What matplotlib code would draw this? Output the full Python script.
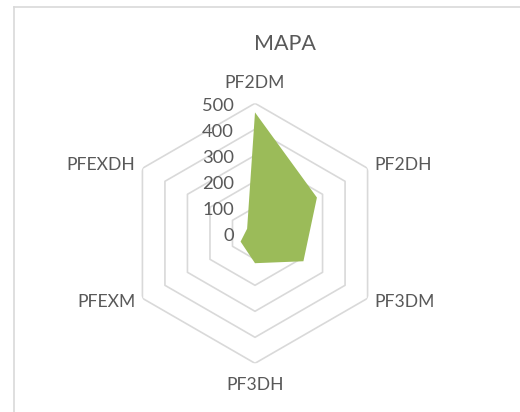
import numpy as np
import matplotlib
matplotlib.use("Agg")
import matplotlib.pyplot as plt
from matplotlib.lines import Line2D

plt.rcParams['font.family'] = ['Lato', 'DejaVu Sans']

# Radar data
categories = ["PF2DM", "PF2DH", "PF3DM", "PF3DH", "PFEXM", "PFEXDH"]
values = [465, 275, 215, 115, 64, 35]
ring_levels = [100, 200, 300, 400, 500]
tick_labels = ["0", "100", "200", "300", "400", "500"]
tick_values = [0, 100, 200, 300, 400, 500]
title = "MAPA"

text_color = "#595959"
grid_color = "#d9d9d9"
fill_color = "#9bbb59"

W, H = 520, 412
fig = plt.figure(figsize=(W / 100, H / 100), dpi=100)
fig.patch.set_facecolor("white")

# chart-area border (extends past the right and bottom edges)
fig.add_artist(Line2D([13.5 / W, 13.5 / W], [0, 405.5 / H], color=grid_color, lw=1.2,
                      transform=fig.transFigure))
fig.add_artist(Line2D([13.5 / W, 1.0], [405.5 / H, 405.5 / H], color=grid_color, lw=1.2,
                      transform=fig.transFigure))

cx, cy, R = 255.0, H - 233.3, 130.0
ax = fig.add_axes([(cx - R) / W, (cy - R) / H, 2 * R / W, 2 * R / H], projection="polar")
ax.set_theta_zero_location("N")
ax.set_theta_direction(-1)
ax.set_ylim(0, 500)
ax.grid(False)
ax.set_xticks([])
ax.set_yticks([])
ax.spines["polar"].set_visible(False)
ax.patch.set_alpha(0)

n = len(categories)
theta = np.arange(n) * 2 * np.pi / n
theta_closed = np.append(theta, theta[0])

# hexagonal gridlines
for lvl in ring_levels:
    ax.plot(theta_closed, [lvl] * (n + 1), color=grid_color, lw=1.2, zorder=1)

# filled series
vals_closed = np.append(values, values[0])
ax.fill(theta_closed, vals_closed, color=fill_color, lw=0, zorder=2)

# value axis labels
for tv, tl in zip(tick_values, tick_labels):
    ax.annotate(tl, xy=(0, tv), xytext=(-21, -2.5), textcoords="offset pixels",
                ha="right", va="center", fontsize=13.2, color=text_color, zorder=3)

# category labels
offsets = [
    ((0, 20), "center", "center"),
    ((7, 3), "left", "center"),
    ((7, -4), "left", "center"),
    ((0, -22), "center", "center"),
    ((-7, -4), "right", "center"),
    ((-7, 3), "right", "center"),
]
for t, lab, (off, ha, va) in zip(theta, categories, offsets):
    ax.annotate(lab, xy=(t, 500), xytext=off, textcoords="offset pixels",
                ha=ha, va=va, fontsize=12.6, color=text_color, annotation_clip=False)

fig.text(285 / W, 1 - 43.5 / H, title, ha="center", va="center", fontsize=15.5, color=text_color)

fig.savefig("out.png", dpi=100, facecolor="white")
